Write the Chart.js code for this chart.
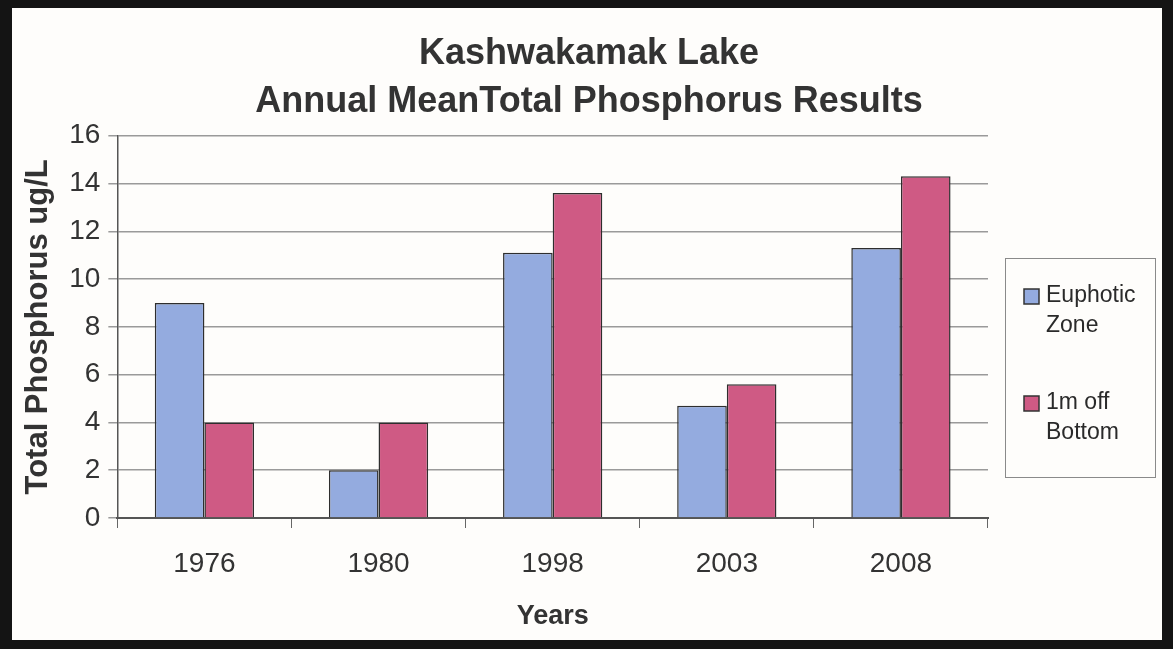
<!DOCTYPE html>
<html>
<head>
<meta charset="utf-8">
<script src="https://cdn.jsdelivr.net/npm/chart.js@4.4.0/dist/chart.umd.min.js"></script>
<style>
  html, body { margin: 0; padding: 0; background: #141414; }
  #frame { position: absolute; left: 12px; top: 8px; width: 1150px; height: 632px; background: #fefdfb; }
</style>
</head>
<body>
<div id="frame"><canvas id="phosChart" width="1150" height="632"></canvas></div>
<script>
// chart data
const years = ['1976', '1980', '1998', '2003', '2008'];
const euphoticZone = [9.0, 2.0, 11.1, 4.7, 11.3];
const offBottom = [4.0, 4.0, 13.6, 5.6, 14.3];
const seriesNames = [['Euphotic', 'Zone'], ['1m off', 'Bottom']];
const seriesColors = ['#94abdf', '#cf5a84'];

const FONT = '"Liberation Sans", Arial, sans-serif';

// legend drawn as a boxed block in the space kept free on the right
const boxLegend = {
  id: 'boxLegend',
  afterDraw(chart) {
    const ctx = chart.ctx;
    const x = 993, y = 250, w = 150, h = 219;
    ctx.save();
    ctx.strokeStyle = '#8a8a8a';
    ctx.lineWidth = 1;
    ctx.strokeRect(x + 0.5, y + 0.5, w, h);
    ctx.font = '23px ' + FONT;
    ctx.textBaseline = 'middle';
    const rows = [[288, 318], [395, 425]];
    seriesNames.forEach((lines, i) => {
      ctx.fillStyle = seriesColors[i];
      ctx.fillRect(x + 19, rows[i][0] - 7, 15, 15);
      ctx.strokeStyle = '#333';
      ctx.lineWidth = 1.5;
      ctx.strokeRect(x + 19, rows[i][0] - 7, 15, 15);
      ctx.fillStyle = '#2a2a2a';
      lines.forEach((t, j) => ctx.fillText(t, x + 41, rows[i][j]));
    });
    ctx.restore();
  }
};

new Chart(document.getElementById('phosChart').getContext('2d'), {
  type: 'bar',
  data: {
    labels: years,
    datasets: [
      { label: seriesNames[0].join(' '), data: euphoticZone, backgroundColor: seriesColors[0],
        borderColor: '#2e2e2e', borderWidth: 1.5 },
      { label: seriesNames[1].join(' '), data: offBottom, backgroundColor: seriesColors[1],
        borderColor: '#2e2e2e', borderWidth: 1.5 }
    ]
  },
  options: {
    responsive: false,
    animation: false,
    devicePixelRatio: 1,
    datasets: { bar: { categoryPercentage: 0.57, barPercentage: 1.0 } },
    layout: { padding: { left: 4, right: 0, top: 10, bottom: 3 } },
    plugins: {
      legend: { display: false },
      tooltip: { enabled: false },
      title: {
        display: true,
        text: ['Kashwakamak Lake', 'Annual MeanTotal Phosphorus Results'],
        color: '#333',
        font: { family: FONT, size: 36, weight: 'bold', lineHeight: 1.33 },
        padding: { top: 12, bottom: 10 }
      }
    },
    scales: {
      x: {
        border: { color: '#555', width: 2 },
        grid: { drawOnChartArea: false, drawTicks: true, tickLength: 10, color: '#666' },
        ticks: { color: '#333', font: { family: FONT, size: 28 }, padding: 19 },
        title: { display: true, text: 'Years', color: '#333',
                 font: { family: FONT, size: 27, weight: 'bold' }, padding: { top: 1 } }
      },
      y: {
        min: 0, max: 16,
        border: { color: '#555', width: 1.5 },
        grid: { color: '#9a9a9a', lineWidth: 1.5, tickLength: 9 },
        ticks: { stepSize: 2, color: '#333', font: { family: FONT, size: 28 }, padding: 8 },
        title: { display: true, text: 'Total Phosphorus ug/L', color: '#333',
                 font: { family: FONT, size: 31, weight: 'bold' }, padding: { bottom: 4 } }
      },
      // empty axis that only keeps room for the boxed legend
      legendSpace: {
        type: 'linear', position: 'right',
        ticks: { display: false }, grid: { display: false }, border: { display: false },
        afterFit(scale) { scale.width = 174; }
      }
    }
  },
  plugins: [boxLegend]
});
</script>
</body>
</html>
